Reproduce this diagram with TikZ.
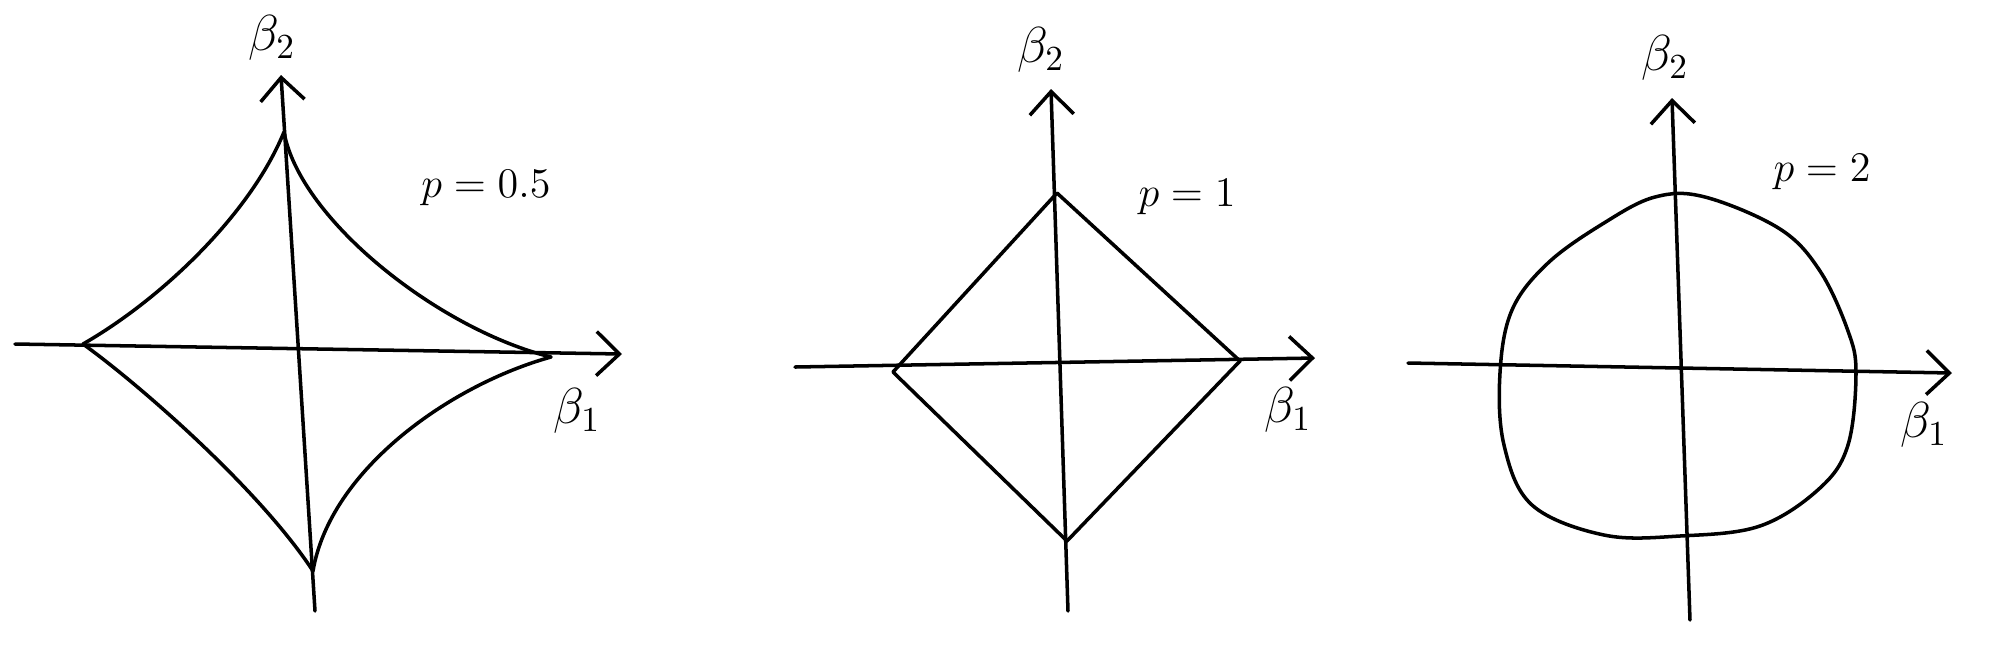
\documentclass[tikz,border=0pt]{standalone}
\usetikzlibrary{arrows.meta}
\begin{document}
\begin{tikzpicture}[x=0.1mm,y=-0.1mm,
  axisline/.style={line width=1pt, line cap=round, -{Straight Barb[length=2.3mm,width=4.4mm,line width=1pt]}},
  shapeline/.style={line width=1pt, line join=round, line cap=round},
  axlabel/.style={font=\fontsize{14}{16}\selectfont, inner sep=0pt},
  plabel/.style={font=\fontsize{12}{14}\selectfont, inner sep=0pt}]
\useasboundingbox (0,0) rectangle (2000,662);

% ---------- Panel 1: p = 0.5 ----------
\coordinate (a1w) at (15,344);
\coordinate (a1e) at (622,354);
\coordinate (a1s) at (315,611);
\coordinate (a1n) at (281,75);
\coordinate (c1n) at (284,132);
\coordinate (c1e) at (551,357);
\coordinate (c1s) at (313,571);
\coordinate (c1w) at (83,344);
\draw[axisline] (a1w) -- (a1e);
\draw[axisline] (a1s) -- (a1n);
\draw[shapeline] (c1w) .. controls (160,300) and (250,215) .. (c1n)
  .. controls (300,220) and (440,330) .. (c1e)
  .. controls (450,385) and (330,470) .. (c1s)
  .. controls (260,490) and (140,385) .. (c1w);
\node[axlabel] (l1b2) at (272,38) {$\beta_2$};
\node[axlabel] (l1b1) at (577,411) {$\beta_1$};
\node[plabel] (l1p) at (486,188) {$p=0.5$};

% ---------- Panel 2: p = 1 ----------
\coordinate (a2w) at (795,367);
\coordinate (a2e) at (1315,358);
\coordinate (a2s) at (1068,611);
\coordinate (a2n) at (1051,89);
\coordinate (d2n) at (1057,193);
\coordinate (d2e) at (1240,361);
\coordinate (d2s) at (1067,541);
\coordinate (d2w) at (893,372);
\draw[axisline] (a2w) -- (a2e);
\draw[axisline] (a2s) -- (a2n);
\draw[shapeline] (d2n) -- (d2e) -- (d2s) -- (d2w) -- cycle;
\node[axlabel] (l2b2) at (1041,50) {$\beta_2$};
\node[axlabel] (l2b1) at (1288,410) {$\beta_1$};
\node[plabel] (l2p) at (1187,197) {$p=1$};

% ---------- Panel 3: p = 2 ----------
\coordinate (a3w) at (1408,363);
\coordinate (a3e) at (1952,373);
\coordinate (a3s) at (1690,620);
\coordinate (a3n) at (1672,98);
\draw[axisline] (a3w) -- (a3e);
\draw[axisline] (a3s) -- (a3n);
\draw[shapeline] plot[smooth cycle, tension=0.6] coordinates {
  (1655,197) (1705,197) (1780,229) (1820,271) (1848,331) (1856,373)
  (1848,445) (1820,488) (1760,526) (1680,536) (1604,535) (1532,505)
  (1504,445) (1500,373) (1512,310) (1548,263) (1604,223)};
\node[axlabel] (l3b2) at (1665,58) {$\beta_2$};
\node[axlabel] (l3b1) at (1924,425) {$\beta_1$};
\node[plabel] (l3p) at (1822,172) {$p=2$};
\end{tikzpicture}
\end{document}
